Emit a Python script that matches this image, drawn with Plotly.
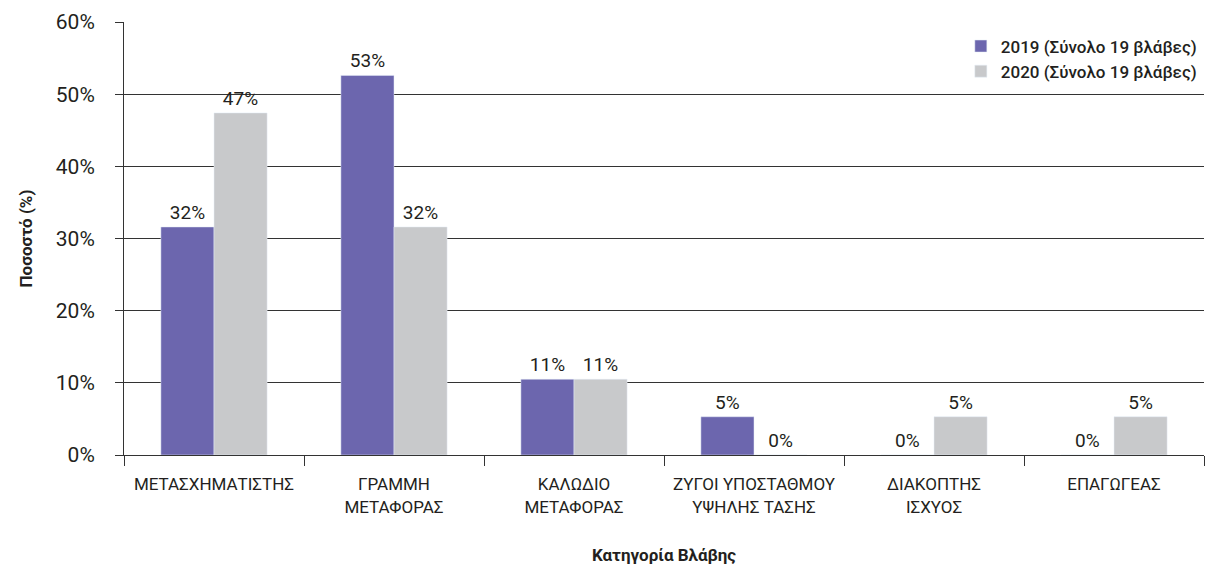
import plotly.graph_objects as go

categories = [
    "ΜΕΤΑΣΧΗΜΑΤΙΣΤΗΣ",
    "ΓΡΑΜΜΗ<br>ΜΕΤΑΦΟΡΑΣ",
    "ΚΑΛΩΔΙΟ<br>ΜΕΤΑΦΟΡΑΣ",
    "ΖΥΓΟΙ ΥΠΟΣΤΑΘΜΟΥ<br>ΥΨΗΛΗΣ ΤΑΣΗΣ",
    "ΔΙΑΚΟΠΤΗΣ<br>ΙΣΧΥΟΣ",
    "ΕΠΑΓΩΓΕΑΣ",
]
values_2019 = [31.6, 52.6, 10.5, 5.3, 0, 0]
values_2020 = [47.4, 31.6, 10.5, 0, 5.3, 5.3]
y_ticks = [0, 10, 20, 30, 40, 50, 60]

FONT = "Roboto, sans-serif"
TXT = "#231f20"

fig = go.Figure()
fig.add_trace(
    go.Bar(
        x=categories, y=values_2019, name="2019 (Σύνολο 19 βλάβες)",
        marker_color="#6c66ae", texttemplate="%{y:.0f}%", textposition="outside",
        textfont=dict(size=19, color=TXT), cliponaxis=False,
    )
)
fig.add_trace(
    go.Bar(
        x=categories, y=values_2020, name="2020 (Σύνολο 19 βλάβες)",
        marker_color="#c8c9cb", texttemplate="%{y:.0f}%", textposition="outside",
        textfont=dict(size=19, color=TXT), cliponaxis=False,
    )
)

fig.update_layout(
    width=1205, height=566,
    margin=dict(l=124, r=1, t=22, b=111),
    paper_bgcolor="white", plot_bgcolor="white",
    font=dict(family=FONT, size=18, color=TXT),
    barmode="group", bargap=0.41, bargroupgap=0,
    showlegend=True,
    legend=dict(
        x=0.998, y=0.985, xanchor="right", yanchor="top",
        bgcolor="white", font=dict(size=17, color=TXT, weight=500),
        itemwidth=30, tracegroupgap=0,
    ),
    xaxis=dict(
        automargin=False,
        showline=True, linecolor="#333", linewidth=1,
        ticks="outside", tickson="boundaries", ticklen=10, tickcolor="#333",
        tickfont=dict(size=17), ticklabelstandoff=14,
        title=dict(text="<b>Κατηγορία Βλάβης</b>", font=dict(size=17), standoff=33),
    ),
    yaxis=dict(
        automargin=False,
        range=[0, 60], tickvals=y_ticks, ticktext=[f"{v}%" for v in y_ticks],
        showline=True, linecolor="#333", linewidth=1,
        ticks="outside", ticklen=8, tickcolor="#333",
        showgrid=True, gridcolor="#333", gridwidth=1,
        tickfont=dict(size=21), ticklabelstandoff=16,
        title=dict(text="<b>Ποσοστό (%)</b>", font=dict(size=17), standoff=18),
    ),
)

# the page's default body margin shifts the plot, remove it
fig.write_html(
    "out.html",
    config={"displayModeBar": False},
    post_script="document.body.style.margin='0';",
)
